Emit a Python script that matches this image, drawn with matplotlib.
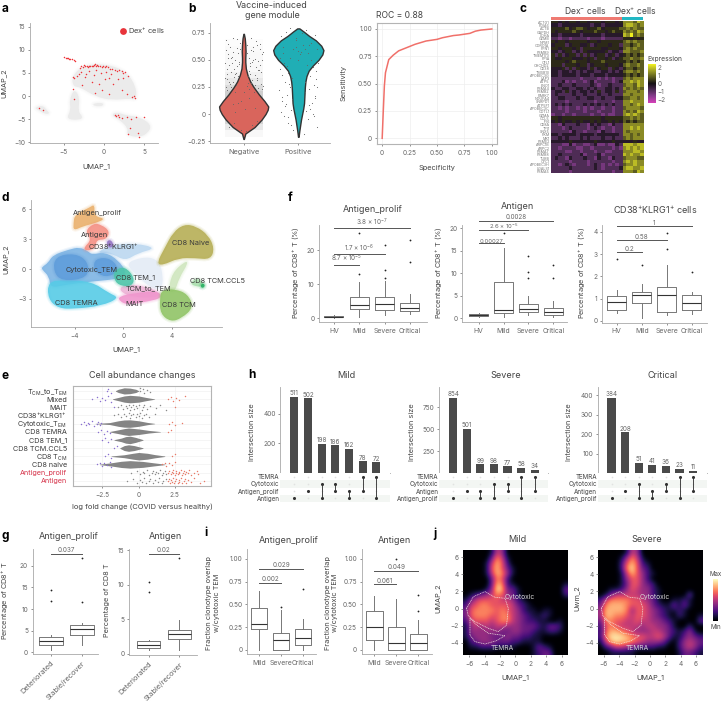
import numpy as np
import matplotlib
matplotlib.use("Agg")
import matplotlib.pyplot as plt
from matplotlib.colors import LinearSegmentedColormap
from matplotlib.path import Path
from matplotlib.patches import PathPatch

plt.rcParams['font.family'] = ['Inter', 'DejaVu Sans']
plt.rcParams['mathtext.default'] = 'regular'

W = 722
H = 703
TXT = "#444444"
TICK = "#666666"
AX = "#a8a8a8"

fig = plt.figure(figsize=(W / 100, H / 100), dpi=100)


# everything is placed in reference pixels
def add_ax(left, top, right, bottom):
    return fig.add_axes([left / W, 1 - bottom / H, (right - left) / W, (bottom - top) / H])


def label(x, y, s, size=5.4, rot=0, color=TXT, ha="center", weight="normal"):
    fig.text(x / W, 1 - y / H, s, fontsize=size, rotation=rot, color=color,
             ha=ha, va="center", fontweight=weight, linespacing=1.1)


def style(ax, size=4.7):
    for s in ["top", "right"]:
        ax.spines[s].set_visible(False)
    for s in ["left", "bottom"]:
        ax.spines[s].set_color(AX)
        ax.spines[s].set_linewidth(0.6)
    ax.tick_params(length=1.5, width=0.5, color=TICK, labelcolor=TICK, labelsize=size)
    ax.tick_params(axis="x", pad=2.7)
    ax.tick_params(axis="y", pad=1.8)


def boxed(ax):
    for s in ax.spines.values():
        s.set_color("#b4b4b4")
        s.set_linewidth(0.8)
    ax.tick_params(length=1.5, width=0.5, color=TICK, labelcolor=TICK, labelsize=4.7)
    ax.tick_params(axis="x", pad=2.7)
    ax.tick_params(axis="y", pad=1.8)


# soft rounded outline, the listed points act as bezier control points
def blob(ax, pts, color, alpha=.9):
    pts = np.array(pts, dtype=float)
    mid = (pts + np.roll(pts, -1, axis=0)) / 2
    verts = [mid[-1]]
    codes = [Path.MOVETO]
    for i in range(len(pts)):
        verts += [pts[i], mid[i]]
        codes += [Path.CURVE3, Path.CURVE3]
    path = Path(verts, codes)
    for lw, a in [(3.5, .12), (1.8, .2)]:
        ax.add_patch(PathPatch(path, fc="none", ec=color, lw=lw, alpha=a * alpha))
    ax.add_patch(PathPatch(path, fc=color, ec="none", alpha=alpha))


# panel a
a_grey_top = [(-4, 4.2), (-2.6, 6.7), (0.3, 7), (2.8, 5.3), (4, 2), (4, -.9), (3.2, -.5), (1.1, -.9), (-1, -.2), (-3, 2), (-3.8, 2)]
a_grey_col = [(-4.3, -.9), (-3.7, 1.6), (-3, -.2), (-3.2, -3.4), (-2.6, -4.5), (-3, -5.2), (-4.7, -5), (-4.1, -3)]
a_grey_left = [(-8.6, -2.5), (-7.6, -2), (-7.1, -3), (-6.7, -3.8), (-7.3, -3.9), (-8.2, -3)]
a_grey_right = [(.9, -4.2), (1.5, -3.4), (2.8, -4.2), (4.4, -4.5), (5.9, -6.2), (5.5, -8), (4.3, -9), (2.8, -8.4), (3, -7), (2, -5.2)]
a_grey_link = [(-1.4, -1.6), (-.1, -1.4), (-.1, -2.2), (-1.2, -2.2)]
a_red_x = [-4.9, -4.75, -4.6, -4.45, -4.3, -4.15, -4.0, -3.7, -3.55,
           -3.0, -2.8, -2.6, -2.5, -2.3, -2.1, -2.0, -1.9, -1.7, -1.5, -1.3, -1.2, -1.1, -1.0, -.9, -.7, -.5, -.3, -.1, .1, .3, .5, .7,
           1.0, 1.4, 1.6, 1.9, 2.2, 2.4, 2.6, 3.0, -3.9, -3.7, -3.4, -3.1, -2.9, -2.4, -2.2, -1.8, -1.2, -1.0, -.4, .2, .6, .9, 1.7, 2.3,
           -3.9, -3.7, -2.7, -1.5, -1.1, -.6, -.3, .1, .6, 1.1, 2.2, 2.9, 3.5, 3.7, 3.9, -8.1, -7.6, 1.4, 1.5, 1.7, 1.9, 2.2, 2.9, 3.4, 4.0, 5.0, 3.2, 3.0, 4.2, 4.4]
a_red_y = [8.4, 8.3, 8.3, 8.15, 8.1, 8.0, 7.95, 7.7, 7.6,
           6.1, 6.5, 6.3, 6.7, 6.4, 6.5, 6.2, 6.6, 6.4, 6.6, 6.4, 6.7, 6.9, 6.5, 6.8, 6.6, 6.5, 6.3, 6.5, 6.2, 6.4, 6.2, 5.9,
           5.8, 5.7, 5.4, 5.6, 5.4, 5.0, 5.3, 4.4, 4.2, 3.9, 4.4, 4.8, 5.2, 4.2, 4.8, 5.4, 4.5, 5.7, 4.9, 5.2, 3.8, 4.7, 3.6, 4.0,
           1.6, -.6, 2.5, 3.0, .6, 2.7, 1.4, 3.6, .4, 2.6, 1.3, .5, -.3, .1, -.5, -2.6, -3.0, -4.0, -4.3, -4.2, -4.5, -4.8, -4.5, -4.9, -4.5, -4.5, -6.9, -8.3, -8.0, -8.9]

ax = add_ax(30, 23, 158, 143)
style(ax)
for poly in [a_grey_top, a_grey_col, a_grey_left, a_grey_right, a_grey_link]:
    blob(ax, poly, "#ebebeb", 1)
ax.scatter(a_red_x, a_red_y, s=1.2, color="#ee3338", lw=0)
ax.scatter([2.4], [14], s=24, color="#e8343a", lw=0)
ax.text(3.0, 14, "Dex$^{+}$ cells", fontsize=5.4, color=TXT, va="center")
ax.set_xlim(-9.17, 6.7)
ax.set_ylim(-10.15, 15.8)
ax.set_xticks([-5, 0, 5])
ax.set_xticklabels(["−5", "0", "5"])
ax.set_yticks([-10, -5, 0, 5, 10, 15])
ax.set_yticklabels(["−10", "−5", "0", "5", "10", "15"])
label(4, 83, "UMAP_2", 5.3, 90)
label(96, 166, "UMAP_1", 5.3)

# panel b
neg_y = [-.23, -.18, -.12, -.05, 0, .04, .07, .12, .18, .25, .3, .36, .42, .48, .52, .58, .64, .7, .74]
neg_w = [.004, .03, .2, .33, .4, .44, .45, .38, .28, .18, .12, .07, .04, .03, .03, .035, .03, .02, .004]
pos_y = [-.21, -.15, -.1, -.05, 0, .05, .1, .15, .2, .25, .3, .35, .4, .45, .5, .55, .59, .63, .68, .72, .76, .79]
pos_w = [.005, .02, .035, .05, .07, .09, .105, .11, .115, .12, .13, .15, .19, .27, .37, .44, .46, .42, .32, .2, .1, .02]
band_y = [-.18, -.12, -.06, 0, .06, .12, .18, .24, .3, .36, .42, .48, .54, .6, .66]
neg_band = [.05, .16, .3, .4, .42, .4, .35, .26, .16, .09, .05, .04, .04, .03, .02]
neg_dot_x = [.68, .72, .75, .8, .84, .88, .93, 1.06, 1.1, 1.14, 1.18, 1.22, 1.26, 1.3, 1.34, .7, .78, .86, 1.12, 1.2, 1.28, .66, .74, .82, .9, 1.08, 1.16, 1.24, 1.32, .69, .77, .85, 1.1, 1.19, 1.27, 1.35, .73, .83, 1.15, 1.25, .95, 1.05, .9, 1.02, 1.1, .85, 1.0, .96, 1.2, .8,
             .67, .71, .76, .81, .87, .91, 1.07, 1.11, 1.17, 1.23, 1.29, 1.33, .69, .74, .79, .83, .9, 1.09, 1.13, 1.21, 1.25, 1.31, .65, .72, .77, .88, .94, 1.08, 1.16, 1.27, 1.36, .7, .84, .92, 1.12, 1.18, 1.3, .75, .86, 1.14, 1.24, .68, .8, 1.06, 1.2, 1.34]
neg_dot_y = [.68, .55, .62, .7, .5, .61, .66, .64, .52, .7, .58, .67, .49, .6, .55, .42, .47, .38, .44, .36, .41, .33, .3, .34, .35, .29, .31, .33, .28, .22, .25, .2, .23, .2, .24, .26, -.12, -.08, -.1, -.06, -.15, -.16, .1, .05, .15, .02, .2, .12, .06, .09,
             .59, .65, .52, .57, .69, .46, .56, .47, .62, .43, .65, .5, .37, .45, .53, .42, .56, .4, .59, .51, .64, .39, .47, .52, .39, .44, .6, .35, .48, .41, .57, .32, .37, .48, .37, .5, .45, .28, .27, .29, .31, .25, .3, .26, .27, .23]
pos_dot_x = [1.68, 1.72, 1.78, 1.85, 1.95, 2.06, 2.14, 2.2, 2.3, 2.34, 1.66, 1.7, 1.76, 1.84, 2.15, 2.22, 2.28, 2.33, 1.7, 1.8, 1.87, 2.12, 2.2, 2.3, 1.74, 1.82, 2.18, 2.26, 1.9, 2.1, 2.0, 1.96, 2.03, 1.9, 2.08, 1.95, 2.0, 2.05, 1.85, 2.12,
             1.67, 1.73, 1.79, 1.82, 1.88, 2.17, 2.23, 2.27, 2.32, 2.36, 1.65, 1.71, 1.77, 1.83, 1.88, 2.13, 2.19, 2.25, 2.31, 2.35, 1.69, 1.75, 1.81, 1.86, 2.14, 2.21, 2.29, 2.34, 1.72, 2.24]
pos_dot_y = [.72, .62, .76, .79, .7, .75, .78, .64, .73, .6, .42, .36, .3, .25, .45, .35, .27, .4, .12, .18, .04, .2, .08, .15, -.02, -.08, -.05, 0, -.15, -.18, .58, .62, .55, .6, .64, .68, .5, .57, .52, .6,
             .52, .47, .44, .38, .33, .56, .5, .43, .32, .47, .22, .16, .09, .28, .14, .3, .23, .1, .17, .25, .02, .07, -.03, -.1, .03, .05, -.02, -.12, .56, .66]

ax = add_ax(210, 23, 330, 143.3)
style(ax)
for y, v in zip(band_y, neg_band):
    ax.barh(y, .7, left=1 - .35, height=.06, color="#777777", alpha=v, lw=0)
ax.fill_betweenx(neg_y, 1 - np.array(neg_w), 1 + np.array(neg_w), color="#d9655c", ec="#333333", lw=1.0, zorder=3)
ax.fill_betweenx(pos_y, 2 - np.array(pos_w), 2 + np.array(pos_w), color="#20aeb5", ec="#333333", lw=1.0, zorder=3)
ax.scatter(neg_dot_x, neg_dot_y, s=.6, color="#666666", lw=0, zorder=4)
ax.scatter(pos_dot_x, pos_dot_y, s=.6, color="#666666", lw=0, zorder=4)
ax.set_xlim(.384, 2.58)
ax.set_ylim(-.27, .84)
ax.set_xticks([1, 2])
ax.set_xticklabels(["Negative", "Positive"], fontsize=5.3)
ax.set_yticks([-.25, 0, .25, .5, .75])
ax.set_yticklabels(["−0.25", "0", "0.25", "0.50", "0.75"])
label(272, 5, "Vaccine-induced", 6.4)
label(272, 16, "gene module", 6.4)

# ROC
roc_x = [0, .01, .02, .03, .05, .06, .1, .15, .2, .25, .3, .4, .5, .55, .6, .65, .7, .8, .85, .9, .95, 1]
roc_y = [0, .25, .48, .6, .68, .72, .76, .8, .82, .84, .86, .89, .905, .92, .93, .94, .945, .96, .98, .99, .995, 1]
ax = add_ax(376.7, 23.3, 497.3, 144)
boxed(ax)
ax.grid(True, color="#eeeeee", lw=0.5)
ax.plot(roc_x, roc_y, color="#f0706a", lw=1.1)
ax.set_xlim(-.05, 1.05)
ax.set_ylim(-.052, 1.052)
ax.set_xticks([0, .25, .5, .75, 1])
ax.set_xticklabels(["0", "0.25", "0.50", "0.75", "1.00"])
ax.set_yticks([0, .25, .5, .75, 1])
ax.set_yticklabels(["0", "0.25", "0.50", "0.75", "1.00"])
label(376.5, 16, "ROC = 0.88", 6.2, ha="left")
label(344, 83, "Sensitivity", 5.3, 90)
label(437, 168, "Specificity", 5.3)

# panel c, digit 0 is -2.5 and 9 is 2.5
gene_labels = ["ACTG1", "PDIA6", "ACTB", "GAPDH", "LDHA", "GZMB", "NPM1", "CORO1A", "PFN1", "PSMB9", "TMEM173", "PPIA", "CFL1",
               "CHCHD2", "CD38", "TMSB10", "APOBEC3G", "LAP3", "ATP5", "ENO1", "PSMA4", "PSMB2", "PARK7", "NDUFA4", "SNRPD1", "ATP5F1",
               "APOBEC3C", "COTL1", "GZMA", "CCL5", "IFI6", "CD8A", "TPI1", "SNX5", "PKM", "MX1", "PSME2", "ARPC1B", "ARPC2", "PSMA7",
               "PSMB8", "TUBB", "CYC1", "APOBEC3H", "LGALS1", "PSMA5"]
heat_rows = ["55454554554555455545777687",
             "44344444444344344444788767",
             "55556456654556455556676766",
             "54555565455565545655767687",
             "44344444344444344444879676",
             "33233233332333233333554545",
             "54554555554554555555676766",
             "45553455445345554553665676",
             "55455545355555445554676766",
             "44345534354444453443776667",
             "53534553535345534534565656",
             "54455544454535545345667667",
             "55554565554555655555565656",
             "55535554553455545554676676",
             "44453535443534553543566566",
             "44344343434433443434677676",
             "44344443444344434444565656",
             "33333333233332323233676777",
             "33342323323423333234778787",
             "33433343333432334333677687",
             "43344334434343344343767676",
             "34435343443435344353677767",
             "34333343343334334333776777",
             "33443334334433433344667767",
             "33332333333323333233778777",
             "34343433343434343433776787",
             "33232332323233233233677776",
             "33332333323332333233767687",
             "23323323333233232233787876",
             "55455555555555455555667676",
             "45454454544545445454656566",
             "33243334332434332433777777",
             "33323433332343233233778787",
             "33333243323332433233767777",
             "44344443444434444443776767",
             "33434333434333433433676777",
             "44444544444454444544444544",
             "33322423322342232243888788",
             "33233332233233333232787878",
             "33332233233323322333777887",
             "33433333423334233333878778",
             "34332433343324332433677766",
             "33333233332333333233787877",
             "33234323332343232323677877",
             "33333433333343233334788778",
             "33333233333333333233777687"]
heat = np.array([[int(c) for c in r] for r in heat_rows]) * 5 / 9 - 2.5
pur_yel = LinearSegmentedColormap.from_list("py", ["#d440b8", "#8a3d90", "#4e2c55", "#141014", "#5c5c20", "#a0a028", "#f0f020"])

ax = add_ax(551, 20.7, 643.3, 173)
ax.imshow(heat, aspect="auto", cmap=pur_yel, vmin=-2.5, vmax=2.5, interpolation="nearest", extent=(0, 26, len(gene_labels), 0))
ax.set_xticks([])
ax.set_yticks(np.arange(len(gene_labels)) + .5)
ax.set_yticklabels(gene_labels, fontsize=2.6, color="#777777")
ax.tick_params(length=0, pad=1)
for s in ax.spines.values():
    s.set_visible(False)
ax = add_ax(551, 17, 643.3, 20.3)
ax.barh([0], [20], left=[0], height=1, color="#ef7a72")
ax.barh([0], [6], left=[20], height=1, color="#22b8c4")
ax.set_xlim(0, 26)
ax.set_ylim(-.5, .5)
ax.axis("off")
label(585, 10, "Dex$^{-}$ cells", 6.2)
label(635, 10, "Dex$^{+}$ cells", 6.2)
label(647.5, 59.5, "Expression", 4.8, ha="left")
cax = add_ax(648, 64, 655.5, 103)
cax.imshow(np.linspace(2.5, -2.5, 64)[:, None], aspect="auto", cmap=pur_yel, vmin=-2.5, vmax=2.5, extent=(0, 1, -2.5, 2.5))
cax.set_xticks([])
cax.yaxis.tick_right()
cax.set_yticks([-2, -1, 0, 1, 2])
cax.set_yticklabels(["−2", "−1", "0", "1", "2"])
cax.tick_params(length=0, labelsize=4.6, labelcolor=TICK, pad=1.5)
for s in cax.spines.values():
    s.set_visible(False)

# panel d
d_sparse = [(.1, .8), (2.9, 1.4), (3.4, -1.6), (2.6, -2.2), (1, -.6)]
d_cloud = [(-2.3, 1.6), (-1, 2.4), (1, 2.6), (2.75, 2.1), (1.2, 1.6), (.15, .8), (-1, 1.6)]
d_cyto = [(-6.7, .2), (-6.2, .6), (-5.8, 1.4), (-4.5, 1.95), (-3.6, 2.2), (-2.9, 1.8), (-2.6, 1.45), (-1.5, 1.7), (-.4, .9), (.3, -.4), (-.3, -1), (-2.6, -1.25), (-4.8, -1.6), (-6, -1.9), (-6.1, -.75), (-6.7, -.05)]
d_lobe1 = [(-5.62, 1.27), (-3.98, 1.6), (-2.88, .77), (-2.88, -.9), (-5.07, -1.24), (-5.76, -.24)]
d_lobe2 = [(-2.33, 1.1), (-.96, 1.1), (-.27, -.24), (-1.51, -.9), (-2.47, -.07)]
d_temra = [(-6.2, -1.25), (-4.8, -1.1), (-2.6, -1.25), (-1.2, -2.4), (-.3, -2.9), (-1.8, -3.7), (-4, -4), (-5.35, -3.95), (-6.2, -3)]
d_tem1 = [(-.7, -.1), (.14, .27), (.95, -.9), (.7, -1.75), (-.4, -1.65), (-.8, -.9)]
d_tcm_tem = [(-.3, -1.75), (.95, -1.5), (2.9, -2.2), (2.9, -2.9), (.95, -2.85), (-.14, -2.4)]
d_mait = [(-.4, -2.75), (.95, -2.4), (2.9, -2.2), (3.2, -2.9), (2.05, -3.25), (.4, -3.6), (-.3, -3.25)]
d_tcm = [(3.15, -2.1), (4.25, -2.0), (5.3, -2.5), (5.8, -3.85), (4.8, -4.95), (3.9, -5.3), (3.05, -4.5), (3, -3)]
d_tcm_arm = [(3.7, -2.3), (4, -.4), (5.1, .8), (5.35, .6), (4.6, -.9), (4.25, -2.3)]
d_ccl5 = [(5.5, -1.4), (6.05, -.9), (6.5, -1.25), (6.6, -1.75), (5.9, -1.75)]
d_ccl5_core = [(6.35, -1.6), (6.6, -1.4), (6.75, -1.75), (6.45, -1.95)]
d_naive = [(2.75, .6), (3.4, 2.1), (4.1, 3.7), (5.0, 4.5), (6.0, 4.3), (7.0, 3.4), (7.5, 2.1), (7.2, .95), (5.9, 1.1), (4.55, 1.1), (3.2, .35)]
d_prolif = [(-4.1, 4.6), (-4, 5.45), (-2.75, 6.2), (-2.35, 6.5), (-2.4, 5.3), (-1.45, 5.05), (-2.3, 4.6), (-3.3, 4.3), (-4.1, 3.85)]
d_antigen = [(-3.15, 3.8), (-2.45, 4.6), (-1.8, 4.45), (-1.1, 3.8), (-1.4, 2.95), (-2.2, 2.95), (-2.3, 2.1), (-3, 1.8), (-3.3, 2.1), (-2.6, 2.95)]
d_klrg = [(-1.4, 2.8), (-1, 2.95), (-.75, 2.3), (-1.23, 2.1)]
d_polys = [d_sparse, d_cloud, d_tcm_arm, d_naive, d_cyto, d_temra, d_lobe1, d_lobe2, d_tcm_tem, d_mait, d_tem1, d_tcm, d_ccl5, d_ccl5_core, d_prolif, d_antigen, d_klrg]
d_colors = ["#e4ecf6", "#bcd8f0", "#cfe6be", "#b6ae55", "#7db4e4", "#56cbe6", "#5f9ddb", "#5f9ddb", "#edb3d6", "#f096cd", "#4cc4a8", "#90c466", "#a9dfad", "#25b060", "#eab06c", "#f49084", "#9272c2"]
d_names = ["Antigen_prolif", "Antigen", "CD38$^{+}$KLRG1$^{+}$", "CD8 Naive", "Cytotoxic_TEM", "CD8 TEM_1", "TCM_to_TEM", "CD8 TCM.CCL5", "CD8 TEMRA", "MAIT", "CD8 TCM"]
d_name_x = [97.3, 94.3, 113.3, 191, 91.3, 135.7, 148, 217.3, 76, 135, 179.3]
d_name_y = [213.3, 234.7, 246.7, 243.3, 270.3, 277, 288, 281.3, 302.7, 304.3, 305]

ax = add_ax(30.7, 200, 221.7, 327.3)
style(ax)
for poly, c in zip(d_polys, d_colors):
    blob(ax, poly, c, .9)
ax.set_xlim(-7.62, 8.1)
ax.set_ylim(-5.85, 6.93)
ax.set_xticks([-4, 0, 4])
ax.set_yticks([-3, 0, 3, 6])
ax.set_yticklabels(["−3", "0", "3", "6"])
ax.set_xticklabels(["−4", "0", "4"])
for n, x, y in zip(d_names, d_name_x, d_name_y):
    label(x, y, n, 5.3, color="#3a3a3a")
label(6, 259, "UMAP_2", 5.3, 90)
label(126, 349, "UMAP_1", 5.3)

# panel e
e_rows = ["T$_{CM}$_to_T$_{EM}$", "Mixed", "MAIT", "CD38$^{+}$KLRG1$^{+}$", "Cytotoxic_T$_{EM}$", "CD8 TEMRA", "CD8 TEM_1",
          "CD8 TCM.CCL5", "CD8 T$_{CM}$", "CD8 naive", "Antigen_prolif", "Antigen"]
e_row_pos = [12, 11, 10, 9, 8, 7, 6, 5, 4, 3, 2, 1]
e_x = {"T_to": [-1.6, -1.4, -1, -.6, -.2, 0],
       "Mixed": [-1.8, -1.4, -1, -.6, 0, .5, 1.1],
       "Cyto": [-3, -2, -1.4, -1, -.6, 0, .6, 1.1],
       "TEMRA": [-2, -1.5, -1, -.7, 0, .7, 1.5],
       "TEM1": [-1.7, -1.2, -.9, -.6, -.2, .3],
       "CCL5": [-1.3, -1, -.7, -.3, .3],
       "TCM": [-1.9, -1, -.4, 0, .6, 1.1, 1.8],
       "naive": [-2.7, -1.8, -1.2, -.6, .3, 1, 1.8]}
e_h = {"T_to": [.03, .2, .38, .34, .2, .03],
       "Mixed": [.03, .2, .38, .46, .38, .2, .02],
       "Cyto": [.02, .12, .34, .44, .46, .34, .14, .02],
       "TEMRA": [.03, .2, .38, .46, .34, .16, .02],
       "TEM1": [.03, .22, .4, .46, .3, .03],
       "CCL5": [.03, .3, .4, .3, .03],
       "TCM": [.03, .18, .36, .46, .36, .2, .03],
       "naive": [.03, .22, .38, .46, .36, .2, .03]}
e_row_of = {"T_to": 12, "Mixed": 11, "Cyto": 8, "TEMRA": 7, "TEM1": 6, "CCL5": 5, "TCM": 4, "naive": 3}
e_grey_dots = {10: [-1.4, -1.2, -1.1, -.9, -.8, -.7, -.6, -.5, -.4, -.3, -.2, -.1, 0, .2, .3, .4, .6, .8, 1.2, 1.5, 1.9],
               9: [-1.7, -1.4, -1.2, -1, -.9, -.7, -.6, -.5, -.4, -.2, -.1, 0, .1, .2, .4, .5, .7, 1.1],
               12: [.1, .3, .4, .6, .8, .1],
               2: [-.5, -.1, .1, .3, .4, .6, .7, .9, 1, 1.1, 1.2, 1.3, 1.5, 1.6, 1.7, 1.8, 1.9],
               1: [-.8, -.4, -.1, .1, .2, .4, .5, .7, .8, 1, 1.1, 1.3, 1.4, 1.6, 1.7, 1.9]}
e_blue_dots = {12: [-2.2, -2.1, -1.9], 11: [-3.2, -2.9, -2.7, -2.5, -2.3, -2.1, -1.9], 10: [-1.7],
               8: [-4, -3.8, -3.6, -3.5, -3.4, -3.2, -3.1, -2.9, -2.8, -2.7, -2.6], 7: [-2.8, -2.6, -2.4, -2.2, -2],
               6: [-2.5, -2.3, -2.1, -1.9], 5: [-1.7, -1.5], 4: [-2.3, -2.1, -1.9], 3: [-2.9, -2.7, -2.5, -2.4, -2.2, -2, -1.9]}
e_red_dots = {11: [2, 2.2, 2.4, 2.6, 2.8, 3.2], 10: [2.5], 8: [2.1, 2.3, 2.5, 3], 7: [2, 2.2],
              4: [2.3, 2.5], 3: [1.6, 1.8, 1.9, 2.1, 2.3, 2.5],
              2: [2, 2.1, 2.2, 2.3, 2.35, 2.4, 2.5, 2.55, 2.6, 2.7, 2.75, 2.8, 2.9, 3, 3.05, 3.1, 3.2, 3.3, 3.4, 3.5, 3.6, 3.8, 4, 4.1],
              1: [2, 2.1, 2.15, 2.2, 2.3, 2.4, 2.45, 2.5, 2.6, 2.7, 2.75, 2.8, 2.9, 3, 3.1, 3.2, 3.3, 3.4, 3.6, 3.8, 4.2, 4.5]}
swarm_off = [0, .22, -.22, .11, -.11, .33, -.33]

ax = add_ax(73.3, 386, 210.7, 485.7)
boxed(ax)
ax.grid(True, color="#eeeeee", lw=0.4)
ax.set_axisbelow(True)
for k in e_x:
    r = e_row_of[k]
    ax.fill_between(e_x[k], r - np.array(e_h[k]), r + np.array(e_h[k]), color="#858585", lw=0)
for dots, c in [(e_grey_dots, "#8a8a8a"), (e_blue_dots, "#8a70d0"), (e_red_dots, "#e87a68")]:
    for r, xs in dots.items():
        ys = [r + swarm_off[i % len(swarm_off)] for i in range(len(xs))]
        ax.scatter(xs, ys, s=1.1, color=c, lw=0, zorder=3)
ax.set_xlim(-4.51, 4.97)
ax.set_ylim(.39, 12.6)
ax.set_xticks([-2.5, 0, 2.5])
ax.set_xticklabels(["−2.5", "0", "2.5"])
ax.set_yticks(e_row_pos)
ax.set_yticklabels(e_rows, fontsize=5.2)
ax.tick_params(axis="y", length=0, pad=4.5, labelcolor="#3a3a3a")
for t in ax.get_yticklabels()[-2:]:
    t.set_color("#d6334a")
label(142, 376, "Cell abundance changes", 6.5)
label(142, 507, "log fold change (COVID versus healthy)", 5.4)


# boxplots
def draw_box(ax, lo, q1, med, q3, hi, fliers, names):
    stats = []
    for i in range(len(lo)):
        stats.append(dict(whislo=lo[i], q1=q1[i], med=med[i], q3=q3[i], whishi=hi[i], fliers=fliers[i]))
    line = dict(color="#777777", lw=0.7)
    ax.bxp(stats, positions=range(1, len(lo) + 1), widths=.75, showcaps=False, boxprops=line, whiskerprops=line,
           medianprops=dict(color="#333333", lw=0.8),
           flierprops=dict(marker="o", ms=1.3, mfc="#222222", mec="#222222", mew=0), manage_ticks=False)
    ax.set_xticks(range(1, len(lo) + 1))
    ax.set_xticklabels(names, fontsize=4.9)


def brackets(ax, pairs, heights, texts, fs=4.6, off=.5):
    for (i, j), h, t in zip(pairs, heights, texts):
        ax.plot([i, j], [h, h], color="#555555", lw=0.7, clip_on=False)
        ax.annotate(t, xy=((i + j) / 2, h), xytext=(0, off), textcoords="offset points", fontsize=fs,
                    color=TICK, ha="center", va="bottom", annotation_clip=False)


sev = ["HV", "Mild", "Severe", "Critical"]
pairs3 = [(1, 2), (1, 3), (1, 4)]
f1_lo = [.2, .4, .9, 1.2]
f1_q1 = [.3, 2.8, 2.4, 2.2]
f1_med = [.5, 3.8, 4.3, 3]
f1_q3 = [.7, 6.4, 6.2, 4.4]
f1_hi = [1, 10.6, 11, 7]
f1_fl = [[], [13, 25], [11.9, 14.3, 21.6], [16.7, 23]]
f2_lo = [.4, .2, .7, .3]
f2_q1 = [.5, 1.1, 1.4, .8]
f2_med = [.7, 1.8, 2.1, 1.4]
f2_q3 = [.9, 8, 3.1, 2.2]
f2_hi = [1.1, 15.6, 4.9, 3.9]
f2_fl = [[], [19], [9, 10.4, 13.8], [8.9, 11.8]]
f3_lo = [.35, .15, .25, .3]
f3_q1 = [.5, .8, .4, .47]
f3_med = [.87, 1.15, 1.15, .8]
f3_q3 = [1.1, 1.32, 1.53, 1.15]
f3_hi = [1.4, 1.65, 2.5, 1.32]
f3_fl = [[2.8], [2.5], [3.25, 3.95], [2.2]]

ax = add_ax(319.3, 225, 426.7, 321.7)
style(ax)
draw_box(ax, f1_lo, f1_q1, f1_med, f1_q3, f1_hi, f1_fl, sev)
brackets(ax, pairs3, [15.7, 18.8, 26.5], ["8.7 × 10$^{-5}$", "1.7 × 10$^{-6}$", "3.8 × 10$^{-7}$"])
ax.set_xlim(.42, 4.66)
ax.set_ylim(-1, 27.44)
ax.set_yticks([0, 10, 20])

ax = add_ax(462.3, 225, 566.7, 321.7)
style(ax)
draw_box(ax, f2_lo, f2_q1, f2_med, f2_q3, f2_hi, f2_fl, sev)
brackets(ax, pairs3[:2], [16.7, 19.6], ["0.00027", "2.6 × 10$^{-5}$"], fs=4.3, off=-.3)
brackets(ax, pairs3[2:], [21.6], ["0.0028"], fs=4.5, off=1)
ax.set_xlim(.34, 4.54)
ax.set_ylim(-.75, 20.73)
ax.set_yticks([0, 5, 10, 15, 20])

ax = add_ax(602.3, 225, 706.7, 322.5)
style(ax)
draw_box(ax, f3_lo, f3_q1, f3_med, f3_q3, f3_hi, f3_fl, sev)
brackets(ax, pairs3, [3.08, 3.62, 4.25], ["0.2", "0.58", "1"])
ax.set_xlim(.424, 4.6)
ax.set_ylim(-.07, 4.31)
ax.set_yticks([0, 1, 2, 3, 4])

label(372.3, 209, "Antigen_prolif", 6.5)
label(517.7, 206.5, "Antigen", 6.5)
label(655, 209, "CD38$^{+}$KLRG1$^{+}$ cells", 6.5)
for x in [295.7, 439, 581.7]:
    label(x, 273, "Percentage of CD8$^{+}$ T (%)", 5.3, 90)

# panel g
g_names = ["Deteriorated", "Stable/recover"]
g1_lo = [.5, 1.7]
g1_q1 = [1.6, 3.9]
g1_med = [2.6, 5.3]
g1_q3 = [3.5, 6.3]
g1_hi = [3.9, 6.8]
g1_fl = [[11.9, 14.3], [11.6, 21.7]]
g2_lo = [.6, .6]
g2_q1 = [.87, 2.2]
g2_med = [1.3, 2.85]
g2_q3 = [1.8, 3.5]
g2_hi = [2, 4.9]
g2_fl = [[9, 10.4], [13.8]]

ax = add_ax(32.7, 549.3, 98, 654)
style(ax)
draw_box(ax, g1_lo, g1_q1, g1_med, g1_q3, g1_hi, g1_fl, g_names)
brackets(ax, [(1, 2)], [22.8], ["0.037"])
ax.set_xlim(.41, 2.52)
ax.set_ylim(-.39, 23.8)
ax.set_yticks([0, 5, 10, 15, 20])
plt.setp(ax.get_xticklabels(), rotation=45, ha="right", rotation_mode="anchor", fontsize=5.3)

ax = add_ax(129.3, 549, 196.7, 655)
style(ax)
draw_box(ax, g2_lo, g2_q1, g2_med, g2_q3, g2_hi, g2_fl, g_names)
brackets(ax, [(1, 2)], [14.5], ["0.02"])
ax.set_xlim(.37, 2.57)
ax.set_ylim(-.19, 15.17)
ax.set_yticks([0, 5, 10, 15])
plt.setp(ax.get_xticklabels(), rotation=45, ha="right", rotation_mode="anchor", fontsize=5.3)

label(69, 536.7, "Antigen_prolif", 6.5)
label(165.7, 536.7, "Antigen", 6.5)
label(5.7, 600.7, "Percentage of CD8$^{+}$ T", 5.3, 90)
label(106.7, 600, "Percentage of CD8 T", 5.3, 90)

# panel h
h_titles = ["Mild", "Severe", "Critical"]
h_sizes = [[511, 502, 198, 186, 162, 78, 72],
           [854, 501, 99, 98, 77, 58, 34],
           [384, 208, 51, 41, 36, 23, 11]]
h_sets = [["TEMRA", "Cytotoxic", "Antigen_prolif", "Antigen"],
          ["TEMRA", "Cytotoxic", "Antigen", "Antigen_prolif"],
          ["TEMRA", "Cytotoxic", "Antigen", "Antigen_prolif"]]
h_members = [[(3,), (2,), (1, 3), (1, 2), (2, 3), (0, 2), (0, 3)],
             [(3,), (2,), (2, 3), (1, 3), (1, 2), (0, 3), (0, 2)],
             [(3,), (2,), (1, 3), (2, 3), (1, 2), (0, 3), (0, 2)]]
h_ymax = [581, 983, 443]
h_yticks = [[200, 400], [250, 500, 750], [100, 200, 300, 400]]
h_left = [280.3, 439.3, 597.7]
h_right = [390, 548.3, 706.7]
h_title_x = [346, 505.7, 662.7]
h_ylabel_x = [252.3, 412.3, 569]

for p in range(3):
    ax = add_ax(h_left[p], 386.7, h_right[p], 473)
    style(ax)
    ax.bar(range(1, 8), h_sizes[p], width=.6, color="#4a4a4a")
    for i, v in enumerate(h_sizes[p]):
        ax.annotate(str(v), xy=(i + 1, v), xytext=(0, .5), textcoords="offset points", fontsize=4.6,
                    color=TICK, ha="center", va="bottom")
    ax.set_xlim(-.02, 8)
    ax.set_ylim(0, h_ymax[p])
    ax.set_xticks([])
    ax.set_yticks(h_yticks[p])
    label(h_title_x[p], 375.7, h_titles[p], 6.5)
    label(h_ylabel_x[p], 431.7, "Intersection size", 5.3, 90)

    ax = add_ax(h_left[p], 473, h_right[p], 502)
    ax.set_xlim(-.02, 8)
    ax.set_ylim(3.5, -.5)
    for r in [1, 3]:
        ax.axhspan(r - .5, r + .5, color="#f3f6f3", lw=0)
    for i, m in enumerate(h_members[p]):
        ax.scatter([i + 1] * 4, range(4), s=1.5, color="#e2e2e2", lw=0)
        ax.plot([i + 1] * len(m), m, "-", color="#444444", lw=0.7)
        ax.scatter([i + 1] * len(m), m, s=5, color="#333333", lw=0, zorder=3)
    ax.set_xticks([])
    ax.set_yticks(range(4))
    ax.set_yticklabels(h_sets[p], fontsize=4.5, color=TXT)
    ax.tick_params(length=0, pad=.5)
    for s in ax.spines.values():
        s.set_visible(False)

# panel i
i_names = ["Mild", "Severe", "Critical"]
i1_lo = [0, 0, 0]
i1_q1 = [.225, 0, .05]
i1_med = [.28, .105, .128]
i1_q3 = [.455, .186, .233]
i1_hi = [.645, .44, .34]
i1_fl = [[], [.47], [.67]]
i2_lo = [0, 0, 0]
i2_q1 = [.105, 0, 0]
i2_med = [.25, .075, .072]
i2_q3 = [.425, .25, .17]
i2_hi = [.59, .56, .33]
i2_fl = [[], [1.0], [.43, .6]]
frac_ticks = [0, .25, .5, .75, 1]
frac_labels = ["0", "0.25", "0.50", "0.75", "1.00"]

ax = add_ax(247.3, 549.3, 316, 654)
style(ax)
draw_box(ax, i1_lo, i1_q1, i1_med, i1_q3, i1_hi, i1_fl, i_names)
brackets(ax, [(1, 2), (1, 3)], [.735, .887], ["0.002", "0.029"])
ax.set_xlim(.45, 3.6)
ax.set_ylim(-.044, 1.103)
ax.set_yticks(frac_ticks)
ax.set_yticklabels(frac_labels)

ax = add_ax(361.7, 549.3, 432, 654)
style(ax)
draw_box(ax, i2_lo, i2_q1, i2_med, i2_q3, i2_hi, i2_fl, i_names)
brackets(ax, [(1, 2), (1, 3)], [.72, .87], ["0.061", "0.049"])
ax.set_xlim(.43, 3.62)
ax.set_ylim(-.044, 1.103)
ax.set_yticks(frac_ticks)
ax.set_yticklabels(frac_labels)

label(289, 540.3, "Antigen_prolif", 6.5)
label(394, 540.3, "Antigen", 6.5)
label(213, 602.7, "Fraction clonotype overlap\nw/cytotoxic TEM", 5.3, 90)
label(331.8, 602.7, "Fraction clonotype overlap\nw/cytotoxic TEM", 5.3, 90)

# panel j
mild_grid = [[0, 0, 0, 0, 0, 1, 5, 4, 0, 0, 0, 0, 0, 0, 0, 0, 0, 0, 0, 0],
             [0, 0, 0, 0, 0, 3, 7, 5, 1, 0, 0, 0, 0, 0, 0, 0, 0, 0, 0, 0],
             [0, 0, 0, 0, 1, 5, 8, 6, 2, 0, 0, 0, 0, 0, 0, 0, 0, 0, 0, 0],
             [0, 0, 0, 0, 1, 6, 8, 6, 3, 1, 0, 0, 0, 0, 0, 0, 0, 0, 0, 0],
             [0, 0, 0, 0, 1, 5, 8, 7, 4, 1, 0, 0, 0, 0, 0, 0, 0, 0, 0, 0],
             [0, 0, 0, 0, 0, 3, 7, 6, 2, 0, 0, 0, 0, 0, 0, 0, 0, 0, 0, 0],
             [0, 0, 0, 0, 0, 3, 8, 7, 2, 1, 0, 0, 0, 0, 0, 0, 0, 0, 0, 1],
             [0, 0, 0, 0, 1, 4, 9, 8, 3, 3, 1, 0, 0, 0, 0, 0, 0, 0, 0, 3],
             [0, 1, 2, 3, 4, 5, 7, 6, 4, 3, 1, 0, 0, 0, 0, 0, 0, 0, 0, 2],
             [1, 3, 5, 6, 6, 6, 6, 5, 5, 4, 2, 1, 0, 0, 0, 0, 0, 0, 0, 0],
             [2, 5, 6, 7, 7, 6, 6, 6, 6, 5, 3, 2, 1, 0, 0, 0, 0, 0, 0, 0],
             [3, 6, 7, 7, 7, 7, 6, 7, 6, 5, 4, 2, 1, 1, 0, 1, 1, 0, 0, 0],
             [3, 6, 7, 7, 7, 6, 6, 7, 7, 5, 4, 3, 2, 1, 1, 2, 1, 0, 0, 0],
             [2, 5, 6, 6, 6, 5, 6, 7, 7, 5, 4, 3, 2, 2, 1, 1, 0, 0, 1, 0],
             [1, 4, 5, 4, 5, 4, 5, 5, 4, 4, 4, 3, 3, 3, 2, 1, 3, 3, 2, 0],
             [1, 4, 4, 4, 4, 4, 4, 3, 3, 4, 4, 3, 3, 2, 1, 1, 2, 2, 1, 0],
             [1, 3, 4, 4, 4, 3, 3, 3, 4, 3, 3, 2, 2, 1, 1, 0, 0, 0, 0, 0],
             [0, 2, 3, 4, 4, 4, 3, 3, 3, 2, 2, 1, 1, 1, 1, 0, 0, 0, 0, 0],
             [0, 1, 1, 2, 2, 2, 1, 1, 1, 1, 0, 0, 0, 1, 3, 2, 1, 0, 0, 0],
             [0, 0, 0, 0, 0, 0, 0, 0, 0, 0, 0, 0, 0, 1, 2, 3, 3, 0, 0, 0]]
severe_grid = [[0, 0, 0, 0, 0, 1, 5, 4, 0, 0, 0, 0, 0, 0, 0, 0, 0, 0, 0, 0],
               [0, 0, 0, 0, 1, 4, 7, 5, 1, 0, 0, 0, 0, 0, 0, 0, 0, 0, 0, 0],
               [0, 0, 0, 0, 2, 6, 8, 6, 2, 1, 0, 0, 0, 0, 0, 0, 0, 0, 0, 0],
               [0, 0, 0, 0, 2, 7, 9, 6, 3, 2, 0, 0, 0, 0, 0, 0, 0, 0, 0, 0],
               [0, 0, 0, 0, 1, 5, 8, 6, 4, 2, 1, 0, 0, 0, 0, 0, 0, 0, 0, 0],
               [0, 0, 0, 0, 1, 4, 6, 6, 4, 2, 0, 0, 0, 0, 0, 0, 0, 0, 0, 0],
               [0, 0, 0, 0, 1, 3, 6, 6, 4, 3, 2, 0, 0, 0, 0, 0, 0, 0, 0, 0],
               [0, 0, 1, 1, 2, 4, 6, 5, 4, 4, 2, 1, 0, 0, 0, 0, 0, 0, 0, 0],
               [0, 1, 3, 5, 5, 5, 5, 5, 4, 4, 2, 1, 0, 0, 0, 0, 0, 3, 0, 0],
               [2, 5, 7, 7, 7, 7, 6, 6, 5, 4, 3, 1, 0, 0, 1, 1, 2, 1, 0, 0],
               [3, 7, 8, 8, 8, 7, 6, 6, 6, 5, 3, 2, 1, 1, 3, 1, 3, 1, 0, 0],
               [4, 8, 8, 8, 8, 7, 4, 6, 6, 5, 4, 3, 2, 1, 1, 2, 1, 0, 0, 0],
               [4, 8, 8, 7, 7, 6, 5, 6, 6, 5, 4, 3, 2, 1, 0, 2, 1, 0, 0, 1],
               [3, 7, 7, 6, 6, 5, 5, 6, 5, 5, 4, 4, 3, 2, 1, 0, 0, 0, 0, 3],
               [2, 6, 7, 6, 5, 5, 5, 5, 4, 5, 5, 4, 4, 3, 1, 0, 0, 2, 0, 0],
               [2, 6, 8, 8, 7, 6, 5, 4, 4, 4, 5, 5, 4, 3, 2, 1, 2, 4, 1, 0],
               [2, 7, 9, 9, 9, 8, 7, 6, 6, 5, 5, 6, 5, 3, 1, 1, 3, 4, 3, 2],
               [1, 5, 8, 9, 8, 8, 7, 6, 5, 4, 4, 4, 3, 1, 0, 2, 4, 5, 4, 3],
               [0, 2, 3, 5, 5, 4, 3, 2, 2, 2, 2, 1, 1, 0, 0, 2, 4, 5, 4, 2],
               [0, 0, 1, 1, 1, 1, 1, 0, 0, 0, 0, 0, 0, 0, 0, 1, 3, 3, 2, 1]]
cyto_x = [-6.35, -5.48, -3.96, -2.66, -1.36, -.93, -1.15, -2.23, -3.53, -5.26, -6.13, -6.35]
cyto_y = [.02, 1.39, 1.98, 1.31, 1.2, .02, -1.93, -2.71, -2.32, -1.54, -.88, .02]
temra_x = [-5.91, -5.91, -5.26, -3.96, -2.45, -1.36, -3.53, -5.05, -5.91]
temra_y = [-1.15, -3.1, -3.88, -4.16, -3.77, -3.18, -2.9, -1.93, -1.15]
j_titles = ["Mild", "Severe"]
j_grids = [mild_grid, severe_grid]
j_left = [463.3, 598]
j_right = [568.3, 702.7]
j_title_x = [517.3, 647]
j_ylabel = ["UMAP_2", "Uwm_2"]
j_ylabel_x = [437.7, 576.7]
j_xlabel_x = [515, 650]

for p in range(2):
    ax = add_ax(j_left[p], 550, j_right[p], 655)
    ax.imshow(j_grids[p], cmap="magma", vmin=0, vmax=9.5, aspect="auto", interpolation="bicubic",
              extent=(-6.78, 6.87, -5.45, 6.86))
    ax.plot(cyto_x, cyto_y, "--", color="#f4e8e0", lw=0.5, dashes=(1.5, 1))
    ax.plot(temra_x, temra_y, "--", color="#f4e8e0", lw=0.5, dashes=(1.5, 1))
    ax.text(.6, 1.39, "Cytotoxic", color="#d8d8d8", fontsize=4.8, ha="center", va="center")
    ax.text(-1.7, -4.6, "TEMRA", color="#d8d8d8", fontsize=4.8, ha="center", va="center")
    ax.set_xticks([-6, -4, -2, 0, 2, 4, 6])
    ax.set_xticklabels(["−6", "−4", "−2", "0", "2", "4", "6"])
    ax.set_yticks([-4, -2, 0, 2, 4, 6])
    ax.set_yticklabels(["−4", "−2", "0", "2", "4", "6"])
    ax.tick_params(length=1.5, width=0.5, color=TICK, labelcolor=TICK, labelsize=4.7)
    ax.tick_params(axis="x", pad=2.7)
    ax.tick_params(axis="y", pad=1.8)
    for s in ax.spines.values():
        s.set_visible(False)
    label(j_title_x[p], 539.7, j_titles[p], 6.5)
    label(j_ylabel_x[p], 598, j_ylabel[p], 5.3, 90)
    label(j_xlabel_x[p], 677.7, "UMAP_1", 5.3)

cax = add_ax(713.3, 579.3, 718, 621)
cax.imshow(np.linspace(1, 0, 64)[:, None], aspect="auto", cmap="magma")
cax.axis("off")
label(715.5, 574, "Max", 4.4)
label(715.5, 626.7, "Min", 4.4)

# panel letters
letter_names = ["a", "b", "c", "d", "f", "e", "h", "g", "i", "j"]
letter_x = [5, 192, 523, 5.7, 290, 5, 251.7, 5, 205.7, 435]
letter_y = [9, 9, 9.5, 198, 198, 375.7, 375, 536, 533, 534]
for n, x, y in zip(letter_names, letter_x, letter_y):
    label(x, y, n, 8.5, color="black", weight="bold")

fig.savefig("out.png", dpi=100)
